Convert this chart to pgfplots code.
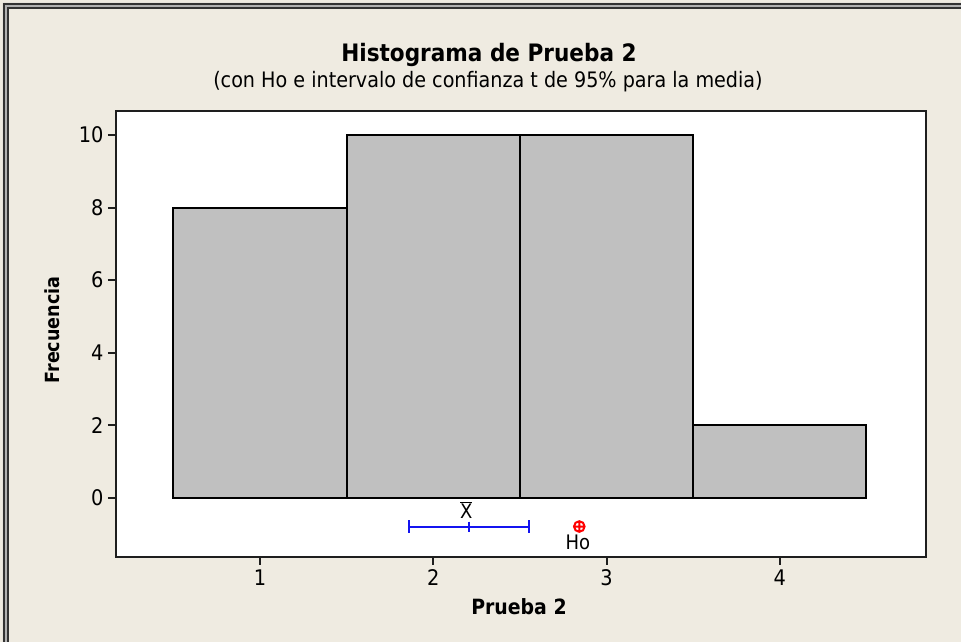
\documentclass[border=0pt]{standalone}
\usepackage{fontspec}
\setmainfont{DejaVu Sans Condensed}
\usepackage{pgfplots}
\pgfplotsset{compat=1.18}
\usetikzlibrary{calc}
\definecolor{bgbeige}{RGB}{239,235,225}
\definecolor{bargray}{RGB}{192,192,192}
\definecolor{axdark}{RGB}{30,30,30}
\definecolor{ciblue}{RGB}{20,20,240}
\begin{document}
\begin{tikzpicture}
\fill[bgbeige] (-116pt,-85pt) rectangle (845pt,557pt);
\useasboundingbox (-116pt,-85pt) rectangle (845pt,557pt);
% frame top-left
\fill[gray!60] (-113pt,-85pt) -- (-113pt,554pt) -- (845pt,554pt) -- (845pt,548pt) -- (-107pt,548pt) -- (-107pt,-85pt) -- cycle;
\draw[line width=2pt, black!80] (-112pt,-85pt) -- (-112pt,553pt) -- (845pt,553pt);
\draw[line width=2pt, black!80] (-108pt,-85pt) -- (-108pt,549pt) -- (845pt,549pt);
\begin{axis}[
  at={(0pt,0pt)}, anchor=south west,
  scale only axis, width=810pt, height=446pt,
  xmin=0.169, xmax=4.844, ymin=-1.63, ymax=10.66,
  axis background/.style={fill=white},
  axis line style={line width=2.2pt, axdark},
  xtick={1,2,3,4}, ytick={0,2,4,6,8,10},
  tick pos=left, tick align=outside,
  major tick length=8pt,
  every tick/.style={line width=2pt, axdark},
  /pgf/number format/assume math mode=true,
  ticklabel style={font=\fontsize{21.5}{24}\selectfont},
  xticklabel style={yshift=-1pt},
  yticklabel style={xshift=-1pt},
  xlabel={Prueba 2},
  ylabel={Frecuencia},
  xlabel style={font=\bfseries\fontsize{21}{24}\selectfont, at={($(rel axis cs:0.4975,0)+(0,-50pt)$)}, anchor=center},
  ylabel style={font=\bfseries\fontsize{19.5}{22}\selectfont, at={($(rel axis cs:0,0.509)+(-64pt,0)$)}, anchor=center, rotate=0},
  clip=false,
]
\addplot[ybar interval, fill=bargray, draw=black, line width=2pt]
  coordinates {(0.5,8) (1.5,10) (2.5,10) (3.5,2) (4.5,2)};
\addplot[ciblue, line width=2pt] coordinates {(1.861,-0.79) (2.554,-0.79)};
\addplot[ciblue, only marks, mark=|, mark size=6.3pt, mark options={line width=2pt}]
  coordinates {(1.861,-0.79) (2.554,-0.79)};
\addplot[ciblue, only marks, mark=|, mark size=5pt, mark options={line width=2pt}]
  coordinates {(2.208,-0.79)};
\addplot[red, only marks, mark=oplus, mark size=5.3pt, mark options={line width=2pt}]
  coordinates {(2.843,-0.79)};
\node[font=\fontsize{20}{22}\selectfont] at (axis cs:2.19,-0.33) {$\overline{\hbox{X}}$};
\node[font=\fontsize{20}{22}\selectfont] at (axis cs:2.835,-1.24) {Ho};
\end{axis}
\node[anchor=base, font=\bfseries\fontsize{24}{27}\selectfont] at (373pt,495pt) {Histograma de Prueba 2};
\node[anchor=base, font=\fontsize{21.3}{24}\selectfont] at (372pt,469pt) {(con Ho e intervalo de confianza t de 95\% para la media)};
\end{tikzpicture}
\end{document}
